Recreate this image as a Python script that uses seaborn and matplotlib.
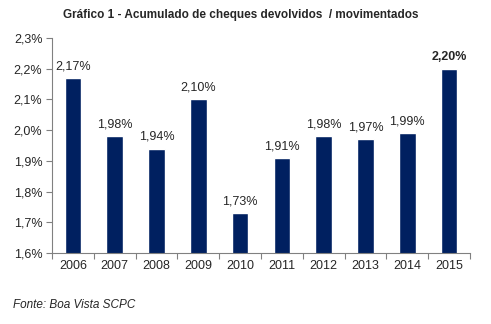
import matplotlib
matplotlib.use("Agg")
import matplotlib.pyplot as plt
from matplotlib.ticker import FuncFormatter, FixedLocator
import seaborn as sns
import pandas as pd

anos = ["2006", "2007", "2008", "2009", "2010", "2011", "2012", "2013", "2014", "2015"]
valores = [2.17, 1.98, 1.94, 2.10, 1.73, 1.91, 1.98, 1.97, 1.99, 2.20]
y_ticks = [1.6, 1.7, 1.8, 1.9, 2.0, 2.1, 2.2, 2.3]

sns.set_style("white")
plt.rcParams["font.family"] = ["Liberation Sans", "DejaVu Sans"]

df = pd.DataFrame({"ano": anos, "valor": valores})

fig = plt.figure(figsize=(4.91, 3.24), dpi=100)
ax = fig.add_axes([0.106, 0.219, 0.851, 0.664])

sns.barplot(data=df, x="ano", y="valor", color="#002060", width=0.4,
            saturation=1, ax=ax)

ax.set_ylim(1.6, 2.3)
ax.set_xlim(-0.5, len(anos) - 0.5)
ax.yaxis.set_major_locator(FixedLocator(y_ticks))
ax.yaxis.set_major_formatter(FuncFormatter(lambda v, p: f"{v:.1f}%".replace(".", ",")))
ax.set_xlabel("")
ax.set_ylabel("")

for s in ["top", "right"]:
    ax.spines[s].set_visible(False)
for s in ["left", "bottom"]:
    ax.spines[s].set_color("#808080")
    ax.spines[s].set_linewidth(0.8)

ax.tick_params(axis="y", which="major", direction="out", length=4, width=0.8,
               color="#808080", labelsize=9, pad=3, left=True)
ax.tick_params(axis="x", which="major", length=0, labelsize=9, pad=5)
ax.set_xticks([i + 0.5 for i in range(-1, len(anos))], minor=True)
ax.tick_params(axis="x", which="minor", direction="out", length=4, width=0.8,
               color="#808080", bottom=True)

for i, v in enumerate(valores):
    txt = f"{v:.2f}%".replace(".", ",")
    ax.annotate(txt, (i, v), xytext=(0, 4), textcoords="offset points",
                ha="center", va="bottom", fontsize=9,
                fontweight="bold" if i == len(valores) - 1 else "normal")

fig.text(0.49, 0.953, "Gráfico 1 - Acumulado de cheques devolvidos  / movimentados",
         ha="center", va="center", fontsize=8.5, fontweight="bold")
fig.text(0.026, 0.058, "Fonte: Boa Vista SCPC", ha="left", va="center",
         fontsize=8.5, style="italic")

fig.savefig("out.png", dpi=100)
